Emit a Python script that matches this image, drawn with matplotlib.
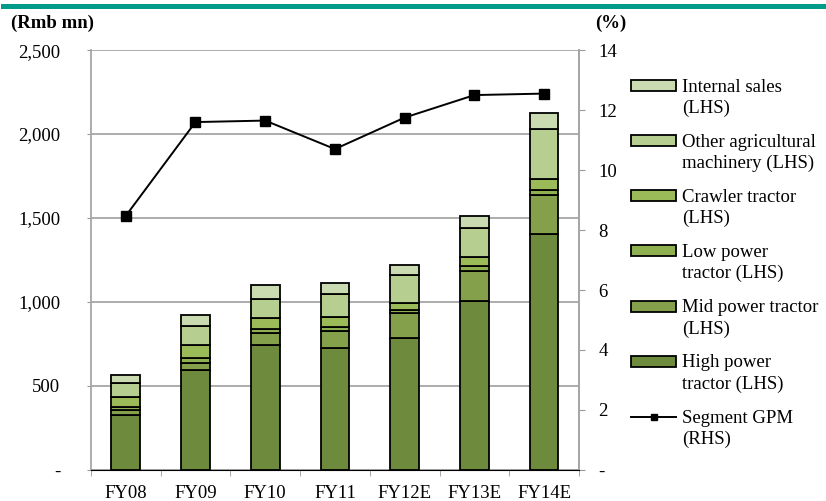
import matplotlib.pyplot as plt
from matplotlib.patches import Patch, Rectangle
from matplotlib.lines import Line2D
from matplotlib.legend_handler import HandlerPatch, HandlerLine2D
import numpy as np

# Data (Rmb mn)
years = ['FY08', 'FY09', 'FY10', 'FY11', 'FY12E', 'FY13E', 'FY14E']
high_power = [326, 595, 746, 726, 786, 1008, 1403]
mid_power = [31, 44, 71, 103, 150, 175, 232]
low_power = [18, 28, 20, 20, 16, 31, 32]
crawler = [61, 79, 68, 60, 40, 56, 65]
other_agri = [82, 111, 111, 141, 169, 170, 296]
internal = [49, 64, 87, 61, 61, 74, 99]
gpm = [8.47, 11.6, 11.65, 10.7, 11.75, 12.5, 12.55]

series = [high_power, mid_power, low_power, crawler, other_agri, internal]
colors = ['#6e8a3d', '#84a04a', '#8fb050', '#9bbb59', '#b6cf90', '#cadbb1']
labels = ['High power\ntractor (LHS)', 'Mid power tractor\n(LHS)', 'Low power\ntractor (LHS)',
          'Crawler tractor\n(LHS)', 'Other agricultural\nmachinery (LHS)', 'Internal sales\n(LHS)']

plt.rcParams['font.family'] = 'Liberation Serif'
FS = 13.5
LS = 1.3  # line spacing inside legend labels


# legend handles sit next to the first line of the two-line labels
def up_patch(legend, orig_handle, xdescent, ydescent, width, height, fontsize):
    return Rectangle((-xdescent, -ydescent + 0.5 * LS * fontsize), width, height)


class UpLine(HandlerLine2D):
    def create_artists(self, legend, orig_handle, xdescent, ydescent, width, height, fontsize, trans):
        return super().create_artists(legend, orig_handle, xdescent, ydescent - LS * fontsize,
                                      width, height, fontsize, trans)


fig = plt.figure(figsize=(8.26, 5.01), dpi=100)
ax = fig.add_axes([0.110, 0.062, 0.591, 0.838])

x = np.arange(len(years))
bottom = np.zeros(len(years))
for vals, c in zip(series, colors):
    ax.bar(x, vals, 0.41, bottom=bottom, color=c, edgecolor='black', linewidth=1.3, zorder=3)
    bottom += np.array(vals)

ax.set_xlim(-0.5, 6.5)
ax.set_ylim(0, 2500)
ax.set_yticks([0, 500, 1000, 1500, 2000, 2500])
ax.set_yticklabels(['-', '500', '1,000', '1,500', '2,000', '2,500'], fontsize=FS)
ax.set_xticks(x)
ax.set_xticklabels(years, fontsize=FS)
ax.set_xticks(np.arange(-0.5, 7, 1), minor=True)
ax.tick_params(axis='x', which='major', length=0, pad=11)
ax.tick_params(axis='x', which='minor', length=4, color='#999999')
ax.tick_params(axis='y', length=3, color='#999999', pad=19)
ax.grid(axis='y', color='#a6a6a6', linewidth=1.3, zorder=0)
ax.spines['top'].set_visible(False)
for s in ['left', 'right', 'bottom']:
    ax.spines[s].set_color('#a6a6a6')
    ax.spines[s].set_linewidth(1.3)

ax2 = ax.twinx()
ax2.plot(x, gpm, color='black', linewidth=1.4, marker='s', markersize=7, zorder=4)
ax2.set_ylim(0, 14)
ax2.set_yticks(range(0, 15, 2))
ax2.set_yticklabels(['-'] + [str(v) for v in range(2, 15, 2)], fontsize=FS)
ax2.tick_params(axis='y', length=4, color='#999999', pad=10)
ax2.spines['top'].set_visible(False)
ax2.spines['right'].set_color('#a6a6a6')
ax2.spines['right'].set_linewidth(1.3)
ax2.spines['left'].set_visible(False)

# Legend (reverse order: top segment first)
handles = [Patch(facecolor=c, edgecolor='black', linewidth=1.3) for c in colors][::-1]
gpm_handle = Line2D([0], [0], color='black', linewidth=1.4, marker='s', markersize=5)
handles.append(gpm_handle)
hmap = {h: HandlerPatch(patch_func=up_patch) for h in handles[:-1]}
hmap[gpm_handle] = UpLine()
leg = fig.legend(handles, labels[::-1] + ['Segment GPM\n(RHS)'], loc='upper left',
                 bbox_to_anchor=(0.764, 0.843), frameon=False, fontsize=FS, borderpad=0,
                 borderaxespad=0, handlelength=2.4, handleheight=0.53, labelspacing=0.9,
                 handletextpad=0.3, handler_map=hmap)
for t in leg.get_texts():
    t.set_linespacing(LS)

fig.text(0.013, 0.945, '(Rmb mn)', fontsize=13.5, fontweight='bold')
fig.text(0.72, 0.945, '(%)', fontsize=13.5, fontweight='bold')
fig.add_artist(Line2D([0.004, 1.0], [0.989, 0.989], color='#009b8a', linewidth=3.6))

fig.savefig('out.png', dpi=100)
